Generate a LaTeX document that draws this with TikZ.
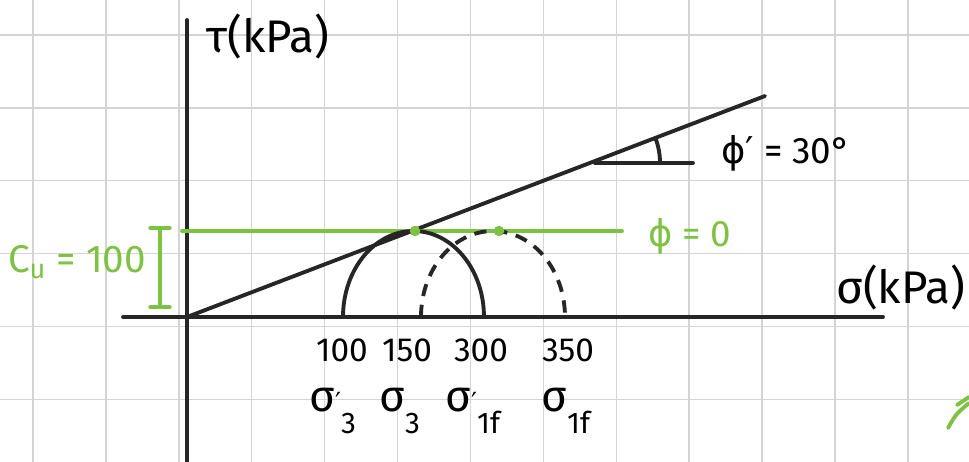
\documentclass[tikz,border=0pt]{standalone}
\usepackage{fontspec}
\setmainfont{Fira Sans}
\newfontfamily\symFont{DejaVu Sans}
\definecolor{padGreen}{HTML}{7DC243}
\newcommand{\stressLab}[2]{σ{\symFont\fontsize{15}{15}\selectfont #1}\raisebox{-0.5em}{\fontsize{17}{17}\selectfont #2}}

\begin{document}
\begin{tikzpicture}[
        x=0.02cm,
        y=0.02cm,
        gridLine/.style={
            draw=black!17,
            line width=0.8pt
        },
        axisLine/.style={
            draw=black!85,
            line width=2.2pt,
            line cap=round
        },
        greenLine/.style={
            draw=padGreen,
            line width=2.2pt,
            line cap=round
        },
        greenDot/.style={
            circle,
            fill=padGreen,
            inner sep=0pt,
            minimum size=6pt
        },
        valueLabel/.style={
            inner sep=0pt,
            font=\fontsize{19}{21}\selectfont
        },
        sigmaText/.style={
            inner sep=0pt,
            font=\fontsize{25}{27}\selectfont
        },
        axisLabel/.style={
            inner sep=0pt,
            font=\fontsize{26}{28}\selectfont
        }
    ]
        \useasboundingbox (0,0) rectangle (969,462);
        \fill[white] (0,0) rectangle (969,462);

        \foreach \gx in {0,...,12}
            \draw[gridLine] (33+72.9*\gx,0) -- (33+72.9*\gx,462);
        \foreach \gy in {0,...,5}
            \draw[gridLine] (0,427-72.9*\gy) -- (969,427-72.9*\gy);

        \coordinate (origin) at (187,145);
        \coordinate (xLeft) at (123,145);
        \coordinate (xRight) at (883,145);
        \coordinate (yTop) at (187,442);
        \coordinate (yBottom) at (187,-5);

        \draw[axisLine] (xLeft) -- (xRight);
        \draw[axisLine] (yBottom) -- (yTop);

        \node[axisLabel, anchor=west] (tauLabel) at (206,425) {τ(kPa)};
        \node[axisLabel, anchor=west] (sigmaLabel) at (836,174) {σ(kPa)};

        % failure envelope
        \coordinate (envEnd) at (765,366);
        \draw[axisLine] (origin) -- (envEnd);

        \coordinate (angStart) at (595,299);
        \coordinate (angEnd) at (693,299);
        \coordinate (angArc) at (660,299);
        \draw[axisLine] (angStart) -- (angEnd);
        \draw[axisLine] (angArc) arc[start angle=0, end angle=21, radius=1.4cm];
        \node[valueLabel, font=\fontsize{21}{23}\selectfont] (phiEff) at (786,309) {{\symFont ϕ′} = 30°};

        % undrained line
        \coordinate (cuLeft) at (182,231);
        \coordinate (cuRight) at (622,231);
        \draw[greenLine] (cuLeft) -- (cuRight);
        \node[valueLabel, font=\fontsize{21}{23}\selectfont, text=padGreen] (phiZero) at (690,226) {{\symFont ϕ} = 0};

        \coordinate (brTop) at (160,234);
        \coordinate (brBot) at (160,155);
        \coordinate (brTopL) at (150,234);
        \coordinate (brTopR) at (170,234);
        \coordinate (brBotL) at (150,155);
        \coordinate (brBotR) at (170,155);
        \draw[greenLine, line width=1.8pt] (brTop) -- (brBot);
        \draw[greenLine, line width=1.8pt] (brTopL) -- (brTopR);
        \draw[greenLine, line width=1.8pt] (brBotL) -- (brBotR);
        \node[valueLabel, font=\fontsize{22}{24}\selectfont, text=padGreen] (cuLabel) at (77,200) {C\textsubscript{u} = 100};

        % Mohr circles
        \coordinate (sigThreeEff) at (343,145);
        \coordinate (sigThree) at (421,145);
        \draw[axisLine] (sigThreeEff) arc[start angle=180, end angle=0, x radius=1.41cm, y radius=1.72cm];
        \draw[axisLine, line cap=butt, dash pattern=on 7pt off 5pt] (sigThree) arc[start angle=180, end angle=0, x radius=1.44cm, y radius=1.72cm];

        \node[greenDot] (tanTotal) at (415,231) {};
        \node[greenDot] (tanEff) at (499,231) {};

        \node[valueLabel] (vHundred) at (342,112) {100};
        \node[valueLabel] (vOneFifty) at (407,112) {150};
        \node[valueLabel] (vThreeHundred) at (481,112) {300};
        \node[valueLabel] (vThreeFifty) at (568,112) {350};

        \node[sigmaText, anchor=base west] (sThreeEff) at (309,50) {\stressLab{′}{3}};
        \node[sigmaText, anchor=base west] (sThree) at (379,50) {\stressLab{}{3}};
        \node[sigmaText, anchor=base west] (sOneEff) at (445,50) {\stressLab{′}{1f}};
        \node[sigmaText, anchor=base west] (sOne) at (541,50) {\stressLab{}{1f}};

        \draw[greenLine] (948,34) .. controls (956,48) .. (969,59);
        \draw[greenLine] (957,57) -- (969,65);

    \end{tikzpicture}
\end{document}
